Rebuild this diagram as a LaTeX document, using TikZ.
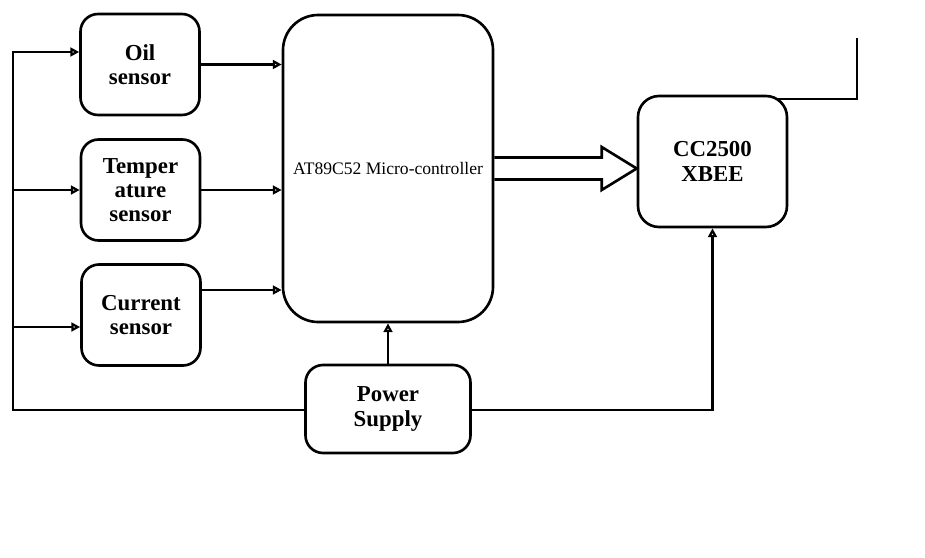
\documentclass[tikz,border=0pt]{standalone}
\usepackage{fontspec}
\setmainfont{Liberation Serif}
\usetikzlibrary{positioning, arrows.meta}
\tikzset{
    base/.style={draw, line width=1.5pt, align=center, font=\fontsize{13}{13.8}\selectfont\bfseries},
    sensorbox/.style={base, rectangle, rounded corners=10pt, minimum width=2.38cm, minimum height=2.02cm},
    mcubox/.style={base, rectangle, rounded corners=20pt, minimum width=4.2cm, minimum height=6.14cm, font=\fontsize{10}{12}\selectfont},
    xbeebox/.style={base, rectangle, rounded corners=12pt, minimum width=2.98cm, minimum height=2.62cm, font=\fontsize{13}{14.5}\selectfont\bfseries},
    psubox/.style={base, rectangle, rounded corners=10pt, minimum width=3.3cm, minimum height=1.76cm},
    arrow/.style={-{Triangle[open, length=5pt, width=5pt]}, line width=1.3pt},
    line/.style={draw, line width=1.3pt},
    hollow/.style={draw, line width=1.5pt, line join=miter}
}
\begin{document}
\begin{tikzpicture}
    \useasboundingbox (0,0) rectangle (18.5,-11.14);

    % Blocks
    \node[sensorbox] (oil) at (2.8, -1.29) {Oil\\sensor};
    \node[sensorbox] (temp) at (2.81, -3.8) {Temper\\ature\\sensor};
    \node[sensorbox] (curr) at (2.82, -6.3) {Current\\sensor};
    \node[mcubox] (mcu) at (7.76, -3.37) {AT89C52 Micro-controller};
    \node[xbeebox] (xbee) at (14.25, -3.23) {CC2500\\XBEE};
    \node[psubox] (psu) at (7.76, -8.18) {Power\\Supply};

    % Supply bus on the left
    \coordinate (busbot) at (0.26, -8.2);
    \coordinate (oilin) at ([yshift=0.25cm]oil.west);
    \coordinate (currin) at ([yshift=-0.24cm]curr.west);
    \draw[arrow] (psu.west |- busbot) -- (busbot) -- (busbot |- oilin) -- (oilin);
    \draw[arrow] (busbot |- temp.west) -- (temp.west);
    \draw[arrow] (busbot |- currin) -- (currin);

    % Sensors to controller
    \draw[arrow] (oil.east) -- (oil.east -| mcu.west);
    \draw[arrow] (temp.east) -- (temp.east -| mcu.west);
    \draw[arrow] ([yshift=0.5cm]curr.east) -- ([yshift=0.5cm]curr.east -| mcu.west);

    % Power to controller and XBEE
    \draw[arrow] (psu.north) -- (mcu.south);
    \draw[arrow] (psu.east |- busbot) -| (xbee.south);

    % Data arrow
    \coordinate (tip) at (xbee.west |- mcu.east);
    \draw[hollow] ([yshift=0.22cm]mcu.east) -- ([xshift=-0.7cm, yshift=0.22cm]tip)
        -- ([xshift=-0.7cm, yshift=0.43cm]tip) -- (tip)
        -- ([xshift=-0.7cm, yshift=-0.43cm]tip) -- ([xshift=-0.7cm, yshift=-0.22cm]tip)
        -- ([yshift=-0.22cm]mcu.east);

    % Antenna
    \coordinate (antfoot) at ([xshift=-0.21cm, yshift=-0.08cm]xbee.north east);
    \coordinate (ant) at (17.14, -0.76);
    \draw[line] (antfoot) -- (ant |- antfoot) -- (ant);
\end{tikzpicture}
\end{document}
